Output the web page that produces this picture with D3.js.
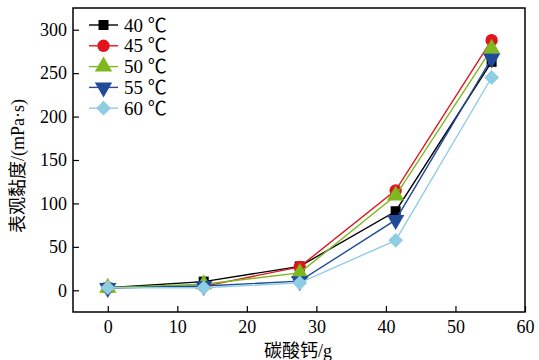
<!DOCTYPE html>
<html lang="zh">
<head>
  <meta charset="UTF-8">
  <title>表观黏度</title>
  <style>
    body { margin: 0; background: #fff; }
    text { font-family: "Liberation Serif", "Noto Sans CJK SC", serif; }
  </style>
</head>
<body>
  <svg></svg>
  <script src="https://cdn.jsdelivr.net/npm/d3@7"></script>
  <script>
    // 数据
    var caco3 = [0, 13.8, 27.6, 41.4, 55.2];
    var temps = ["40 ℃", "45 ℃", "50 ℃", "55 ℃", "60 ℃"];
    var v40 = [3, 10, 27.5, 91, 263];
    var v45 = [3, 4.5, 27, 115, 288];
    var v50 = [3, 7, 20, 109, 278];
    var v55 = [2.5, 5, 10.5, 81, 267];
    var v60 = [3, 3, 8.5, 57.5, 245];
    var xTicks = [0, 10, 20, 30, 40, 50, 60];
    var yTicks = [0, 50, 100, 150, 200, 250, 300];

    var series = [v40, v45, v50, v55, v60];
    var colors = ["#000000", "#e2141d", "#7db81e", "#1f4b99", "#8fcde3"];
    // 菱形用旋转45°的正方形
    var symbols = [d3.symbolSquare, d3.symbolCircle, d3.symbolTriangle, d3.symbolTriangle, d3.symbolSquare];
    var symSize = [100, 120, 130, 130, 110];
    var symRot = [0, 0, 0, 180, 45];

    var width = 539, height = 360;
    var margin = { left: 73, right: 14, top: 8, bottom: 48 };

    var svg = d3.select("svg")
      .attr("width", width)
      .attr("height", height);

    var x = d3.scaleLinear()
      .domain([-5, 60])
      .range([margin.left, width - margin.right]);
    var y = d3.scaleLinear()
      .domain([-25, 325])
      .range([height - margin.bottom, margin.top]);

    // 坐标轴（刻度朝内）
    var xAxis = svg.append("g")
      .attr("transform", `translate(0, ${height - margin.bottom})`)
      .call(d3.axisBottom(x).tickValues(xTicks).tickSizeInner(-6).tickSizeOuter(0).tickPadding(8));
    var yAxis = svg.append("g")
      .attr("transform", `translate(${margin.left}, 0)`)
      .call(d3.axisLeft(y).tickValues(yTicks).tickSizeInner(-6).tickSizeOuter(0).tickPadding(6));
    [xAxis, yAxis].forEach(function(g) {
      g.select(".domain").remove();
      g.selectAll("line").attr("stroke", "#000").attr("stroke-width", 1.2);
      g.selectAll("text").attr("font-size", "18px").attr("fill", "#000")
        .attr("font-family", "Liberation Serif");
    });

    // 边框
    svg.append("rect")
      .attr("x", margin.left)
      .attr("y", margin.top)
      .attr("width", width - margin.left - margin.right)
      .attr("height", height - margin.top - margin.bottom)
      .attr("fill", "none")
      .attr("stroke", "#000")
      .attr("stroke-width", 1.5);

    // 折线和标记
    var line = d3.line()
      .x(function(d, i) { return x(caco3[i]); })
      .y(function(d) { return y(d); });

    series.forEach(function(s, k) {
      svg.append("path")
        .datum(s)
        .attr("fill", "none")
        .attr("stroke", colors[k])
        .attr("stroke-width", 1.4)
        .attr("d", line);
      svg.append("g")
        .selectAll("path")
        .data(s)
        .join("path")
        .attr("d", d3.symbol().type(symbols[k]).size(symSize[k]))
        .attr("transform", function(d, i) {
          return `translate(${x(caco3[i])}, ${y(d)}) rotate(${symRot[k]})`;
        })
        .attr("fill", colors[k]);
    });

    // 图例
    var legend = svg.append("g").attr("transform", "translate(89, 25)");
    temps.forEach(function(t, k) {
      var row = legend.append("g").attr("transform", `translate(0, ${k * 20.8})`);
      row.append("line")
        .attr("x1", 0).attr("x2", 29)
        .attr("stroke", colors[k]).attr("stroke-width", 1.4);
      row.append("path")
        .attr("d", d3.symbol().type(symbols[k]).size(symSize[k]))
        .attr("transform", `translate(14.5, 0) rotate(${symRot[k]})`)
        .attr("fill", colors[k]);
      row.append("text")
        .attr("x", 35)
        .attr("dy", "0.35em")
        .attr("font-size", "19px")
        .text(t);
    });

    // 坐标轴标题
    svg.append("text")
      .attr("transform", `translate(24, ${(margin.top + height - margin.bottom) / 2 + 6}) rotate(-90)`)
      .attr("text-anchor", "middle")
      .attr("font-size", "18px")
      .text("表观黏度/(mPa·s)");
    svg.append("text")
      .attr("x", 298)
      .attr("y", 357)
      .attr("text-anchor", "middle")
      .attr("font-size", "18px")
      .text("碳酸钙/g");
  </script>
</body>
</html>
